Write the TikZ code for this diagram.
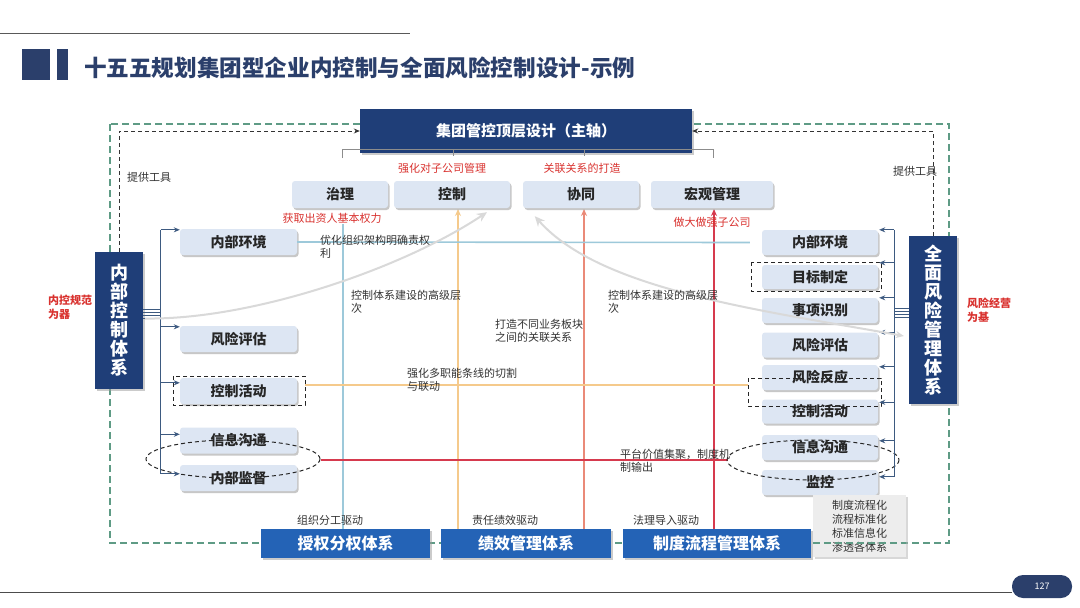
\documentclass[tikz,border=0pt]{standalone}
\usepackage{fontspec}
\setmainfont{Noto Sans CJK SC}
\usetikzlibrary{shadows,arrows.meta,calc}
\definecolor{navy}{HTML}{1F3E78}
\definecolor{titlec}{HTML}{2B3F6B}
\definecolor{midblue}{HTML}{2463B6}
\definecolor{boxfill}{HTML}{DDE6F3}
\definecolor{lblue}{HTML}{9DC9DA}
\definecolor{lorange}{HTML}{F5CA8C}
\definecolor{salmon}{HTML}{EA8A78}
\definecolor{crim}{HTML}{D63A4E}
\definecolor{redtxt}{HTML}{D9322F}
\definecolor{gdash}{HTML}{5E9B85}
\definecolor{trunkc}{HTML}{3D5A80}
\definecolor{txtc}{HTML}{333333}
\begin{document}
\begin{tikzpicture}[x=1pt,y=-1pt,
  lbox/.style={fill=boxfill, rounded corners=3pt, inner sep=0pt,
    font=\bfseries\fontsize{14}{16}\selectfont, text=black!85,
    drop shadow={shadow xshift=1.5pt, shadow yshift=-2pt, fill=black!40, opacity=.55}},
  navybox/.style={fill=navy, inner sep=0pt, text=white, align=center,
    font=\bfseries\fontsize{18}{19}\selectfont,
    drop shadow={shadow xshift=1.5pt, shadow yshift=-2pt, fill=black!40, opacity=.5}},
  bbox/.style={fill=midblue, inner sep=0pt, text=white,
    font=\bfseries\fontsize{16}{18}\selectfont,
    drop shadow={shadow xshift=1.5pt, shadow yshift=-2pt, fill=black!40, opacity=.5}},
  smalltxt/.style={inner sep=0pt, align=left, text=txtc, font=\fontsize{11}{13}\selectfont},
  redlbl/.style={inner sep=0pt, text=redtxt, font=\fontsize{11}{13}\selectfont},
  sidelbl/.style={inner sep=0pt, align=left, text=redtxt, font=\bfseries\fontsize{11}{14}\selectfont},
  tarr/.style={draw=trunkc, line width=1pt, -{Stealth[length=6pt,width=5pt]}},
  tline/.style={draw=trunkc, line width=1pt},
  gdashed/.style={draw=gdash, line width=1.2pt, dash pattern=on 7pt off 4pt},
  ddashed/.style={draw=black!80, line width=1pt, dash pattern=on 4pt off 3pt, -{Stealth[length=6pt,width=5pt]}},
  boxdash/.style={draw=black!85, line width=1pt, dash pattern=on 4pt off 3pt},
  curvel/.style={draw=black!15, line width=2pt, -{Stealth[length=10pt,width=9pt]}},
]
\useasboundingbox (0,0) rectangle (1080,608);
\fill[white] (0,0) rectangle (1080,608);

% header
\draw[black!65, line width=1pt] (0,33) -- (410,33);
\fill[titlec] (22,49) rectangle (50,80);
\fill[titlec] (57,49) rectangle (68,80);
\node[anchor=west, inner sep=0pt, text=titlec, font=\bfseries\fontsize{22.6}{26}\selectfont] (title) at (84,68) {十五五规划集团型企业内控制与全面风险控制设计-示例};

% outer green dashed frame
\draw[gdashed] (110,124) rectangle (949,543);

% coloured axes
\draw[lblue, line width=1.6pt] (343,529) -- (343,224);
\draw[lorange, line width=1.6pt, -{Stealth[length=7pt,width=6pt]}] (458,529) -- (458,209);
\draw[salmon, line width=1.8pt, -{Stealth[length=7pt,width=6pt]}] (584,529) -- (584,209);
\draw[crim, line width=1.8pt, -{Stealth[length=7pt,width=6pt]}] (714,529) -- (714,209);

% nodes: top
\node[fill=navy, inner sep=0pt, minimum width=332, minimum height=44, text=white,
  font=\bfseries\fontsize{15}{18}\selectfont,
  drop shadow={shadow xshift=1.5pt, shadow yshift=-2pt, fill=black!40, opacity=.5}] (top) at (526,131) {集团管控顶层设计（主轴）};
\draw[black!45, line width=1pt] (342,158) -- (342,149) -- (713,149) -- (713,158);
\draw[black!45, line width=1pt] (453,149) -- (453,156);
\draw[black!45, line width=1pt] (584,149) -- (584,156);

\node[lbox, minimum width=96, minimum height=27] (zl) at (340,194.5) {治理};
\node[lbox, minimum width=116, minimum height=27] (kz) at (452,194.5) {控制};
\node[lbox, minimum width=116, minimum height=27] (xt) at (581,194.5) {协同};
\node[lbox, minimum width=122, minimum height=27] (hg) at (712,194.5) {宏观管理};

\node[redlbl] (r1) at (442,168) {强化对子公司管理};
\node[redlbl] (r2) at (582,168) {关联关系的打造};
\node[redlbl] (r3) at (332,218) {获取出资人基本权力};
\node[redlbl] (r4) at (712,222) {做大做强子公司};

% left and right system boxes
\node[navybox, minimum width=48, minimum height=137] (ics) at (119,320.5) {内\\部\\控\\制\\体\\系};
\node[navybox, minimum width=48, minimum height=168] (erm) at (933,320) {全\\面\\风\\险\\管\\理\\体\\系};

% dark dashed feedback arrows
\draw[ddashed] (ics.north) |- (top.west);
\draw[ddashed] (erm.north) |- (top.east);
\node[smalltxt, anchor=west] (tl) at (127,177) {提供工具};
\node[smalltxt] (tr) at (915,171) {提供工具};

% left boxes
\node[lbox, minimum width=117, minimum height=26] (nkL) at (238.5,242) {内部环境};
\node[lbox, minimum width=117, minimum height=26] (fxL) at (238.5,339) {风险评估};
\node[lbox, minimum width=117, minimum height=26] (kzL) at (238.5,391) {控制活动};
\node[lbox, minimum width=117, minimum height=26] (xxL) at (238.5,440.5) {信息沟通};
\node[lbox, minimum width=117, minimum height=26] (jdL) at (238.5,478) {内部监督};

% right boxes
\node[lbox, minimum width=116, minimum height=25] (nkR) at (820,242.5) {内部环境};
\node[lbox, minimum width=116, minimum height=24] (mbR) at (820,277) {目标制定};
\node[lbox, minimum width=116, minimum height=25] (sxR) at (820,310.5) {事项识别};
\node[lbox, minimum width=116, minimum height=25] (fxR) at (820,345) {风险评估};
\node[lbox, minimum width=116, minimum height=25] (fyR) at (820,377.5) {风险反应};
\node[lbox, minimum width=116, minimum height=24] (kzR) at (820,411.5) {控制活动};
\node[lbox, minimum width=116, minimum height=25] (xxR) at (820,447.5) {信息沟通};
\node[lbox, minimum width=116, minimum height=25] (jkR) at (820,482.5) {监控};

% horizontal relation lines
\draw[lblue, line width=1.6pt] (nkL.east) -- ([xshift=-12pt]nkR.west);
\draw[lorange, line width=1.6pt] (305,385) -- (748,385);
\draw[crim, line width=2.6pt] (321,460) -- (728,460);

% dashed markers
\draw[boxdash] (173,376) rectangle (305,405);
\draw[boxdash] (751,262) rectangle (881,291);
\draw[boxdash] (748,378) rectangle (881,406);
\draw[boxdash] (233,459) ellipse [x radius=87, y radius=19];
\draw[boxdash] (813,460) ellipse [x radius=86, y radius=20];

% left trunk
\foreach \d in {-11,-8,-5,-2} \draw[tline] ($(ics.east)+(0,\d)$) -- ($(ics.east)+(18,\d)$);
\draw[tline] ($(nkL.north west)+(-19,1)$) -- ($(jdL.north west)+(-19,9)$);
\foreach \n/\d in {nkL/1,fxL/1,kzL/5,xxL/7,jdL/9}
  \draw[tarr] ($(\n.north west)+(-19,\d)$) -- ($(\n.north west)+(0,\d)$);

% right trunk
\foreach \d in {-12,-9,-6,-3} \draw[tline] ($(erm.west)+(0,\d)$) -- ($(erm.west)+(-15,\d)$);
\draw[tline] ($(nkR.north east)+(16,0)$) -- ($(jkR.north east)+(16,7)$);
\foreach \n/\d in {nkR/0,mbR/-2,sxR/0,fxR/0,fyR/2,kzR/3,xxR/6,jkR/7}
  \draw[tarr] ($(\n.north east)+(16,\d)$) -- ($(\n.north east)+(1,\d)$);

% grey curves
\draw[curvel] ($(ics.east)+(2,-2)$) .. controls (250,320) and (400,270) .. ($(kz.south)+(35,4)$);
\draw[draw=black!15, line width=2pt, {Stealth[length=10pt,width=9pt]}-{Stealth[length=8pt,width=7pt]}] ($(xt.south west)+(12,8)$) .. controls (600,290) and (760,310) .. ($(erm.west)+(-5,16)$);

% middle texts
\node[smalltxt, anchor=north west] (t1) at (320,235) {优化组织架构明确责权\\利};
\node[smalltxt, anchor=north west] (t2) at (351,290) {控制体系建设的高级层\\次};
\node[smalltxt, anchor=north west] (t3) at (495,319) {打造不同业务板块\\之间的关联关系};
\node[smalltxt, anchor=north west] (t4) at (608,290) {控制体系建设的高级层\\次};
\node[smalltxt, anchor=north west] (t5) at (407,368) {强化多职能条线的切割\\与联动};
\node[smalltxt, anchor=north west] (t6) at (620,449) {平台价值集聚，制度机\\制输出};

% side labels
\node[sidelbl, anchor=north west] (sl) at (48,295) {内控规范\\为器};
\node[sidelbl, anchor=north west] (sr) at (967,298) {风险经营\\为基};

% bottom system boxes
\node[bbox, minimum width=169, minimum height=29] (sq) at (345.5,543.5) {授权分权体系};
\node[bbox, minimum width=170, minimum height=29] (jx) at (526,543.5) {绩效管理体系};
\node[bbox, minimum width=188, minimum height=29] (zd) at (717,543.5) {制度流程管理体系};
\node[fill=black!7, inner sep=0pt, minimum width=93, minimum height=62, align=center, text=txtc,
  font=\fontsize{11}{14}\selectfont,
  drop shadow={shadow xshift=1.5pt, shadow yshift=-2pt, fill=black!30, opacity=.5}] (gb) at (859.5,526) {制度流程化\\流程标准化\\标准信息化\\渗透各体系};
\draw[gdash, line width=1.2pt, dash pattern=on 7pt off 4pt] (gb.west |- 0,543) -- (gb.east |- 0,543);

\node[smalltxt] (d1) at (330,520) {组织分工驱动};
\node[smalltxt] (d2) at (505,520) {责任绩效驱动};
\node[smalltxt] (d3) at (666,520) {法理导入驱动};

% footer
\draw[black!70, line width=1pt] (0,592) -- (1012,592);
\node[fill=titlec, rounded corners=11pt, minimum width=60, minimum height=23, inner sep=0pt,
  text=white, font=\fontsize{9}{10}\selectfont] (pg) at (1042,586.5) {127};
\end{tikzpicture}
\end{document}
